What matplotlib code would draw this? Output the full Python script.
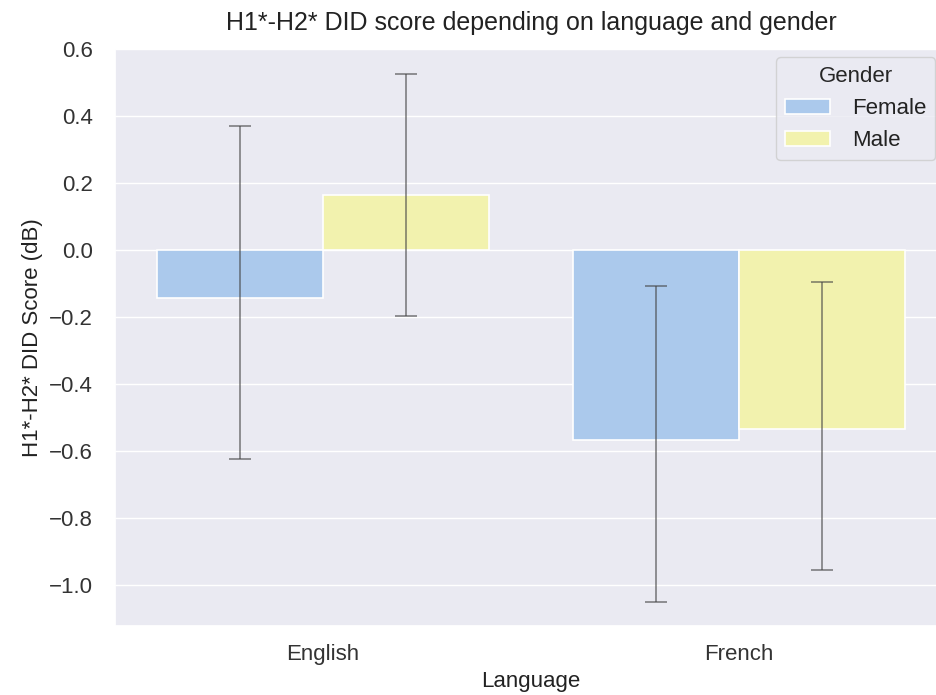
import numpy as np
import matplotlib
matplotlib.use("Agg")
import matplotlib.pyplot as plt
import seaborn as sns

languages = ["English", "French"]
genders = ["Female", "Male"]
# mean DID score per gender, one value per language
means = {
    "Female": [-0.143, -0.568],
    "Male": [0.164, -0.534],
}
# confidence interval bounds (low, high) per gender
ci_low = {
    "Female": [-0.625, -1.051],
    "Male": [-0.196, -0.955],
}
ci_high = {
    "Female": [0.369, -0.107],
    "Male": [0.524, -0.095],
}
colors = {"Female": "#abc9ec", "Male": "#f2f2ae"}

sns.set_theme(style="darkgrid")
plt.rcParams["font.family"] = ["Liberation Sans", "DejaVu Sans"]

fig = plt.figure(figsize=(9.36, 6.95), dpi=100)
ax = fig.add_axes([115 / 936, 69 / 695, 832 / 936, 577 / 695])

x = np.arange(len(languages))
width = 0.4
for i, g in enumerate(genders):
    pos = x - 0.2 + i * width
    m = np.array(means[g])
    ax.bar(pos, m, width, color=colors[g], edgecolor="white", linewidth=1.2,
           label=g, zorder=2)
    yerr = np.vstack([m - np.array(ci_low[g]), np.array(ci_high[g]) - m])
    ax.errorbar(pos, m, yerr=yerr, fmt="none", ecolor="#444444", alpha=0.6,
                elinewidth=1.3, capsize=8, capthick=1.3, zorder=3)

ax.grid(False, axis="x")
ax.set_xlim(-0.5, 1.5)
ax.set_ylim(-1.122, 0.6)
ax.set_yticks(np.arange(-1.0, 0.61, 0.2))
ax.set_xticks(x)
ax.set_xticklabels(languages)
ax.tick_params(labelsize=16, colors="#333333")
ax.tick_params(axis="y", pad=10)
ax.tick_params(axis="x", pad=7)
ax.set_xlabel("Language", fontsize=16, color="#222222", labelpad=4)
ax.set_ylabel("H1*-H2* DID Score (dB)", fontsize=16, color="#222222")
ax.set_title("H1*-H2* DID score depending on language and gender",
             fontsize=18, color="#222222", pad=14)

# legend box sits just inside the visible right edge
leg = ax.legend(title="Gender", loc="upper right", fontsize=16,
                title_fontsize=16, bbox_to_anchor=(0.9856, 0.986),
                borderaxespad=0, handletextpad=1.0)
for t in leg.get_texts():
    t.set_color("#222222")

fig.savefig("out.png", dpi=100)
